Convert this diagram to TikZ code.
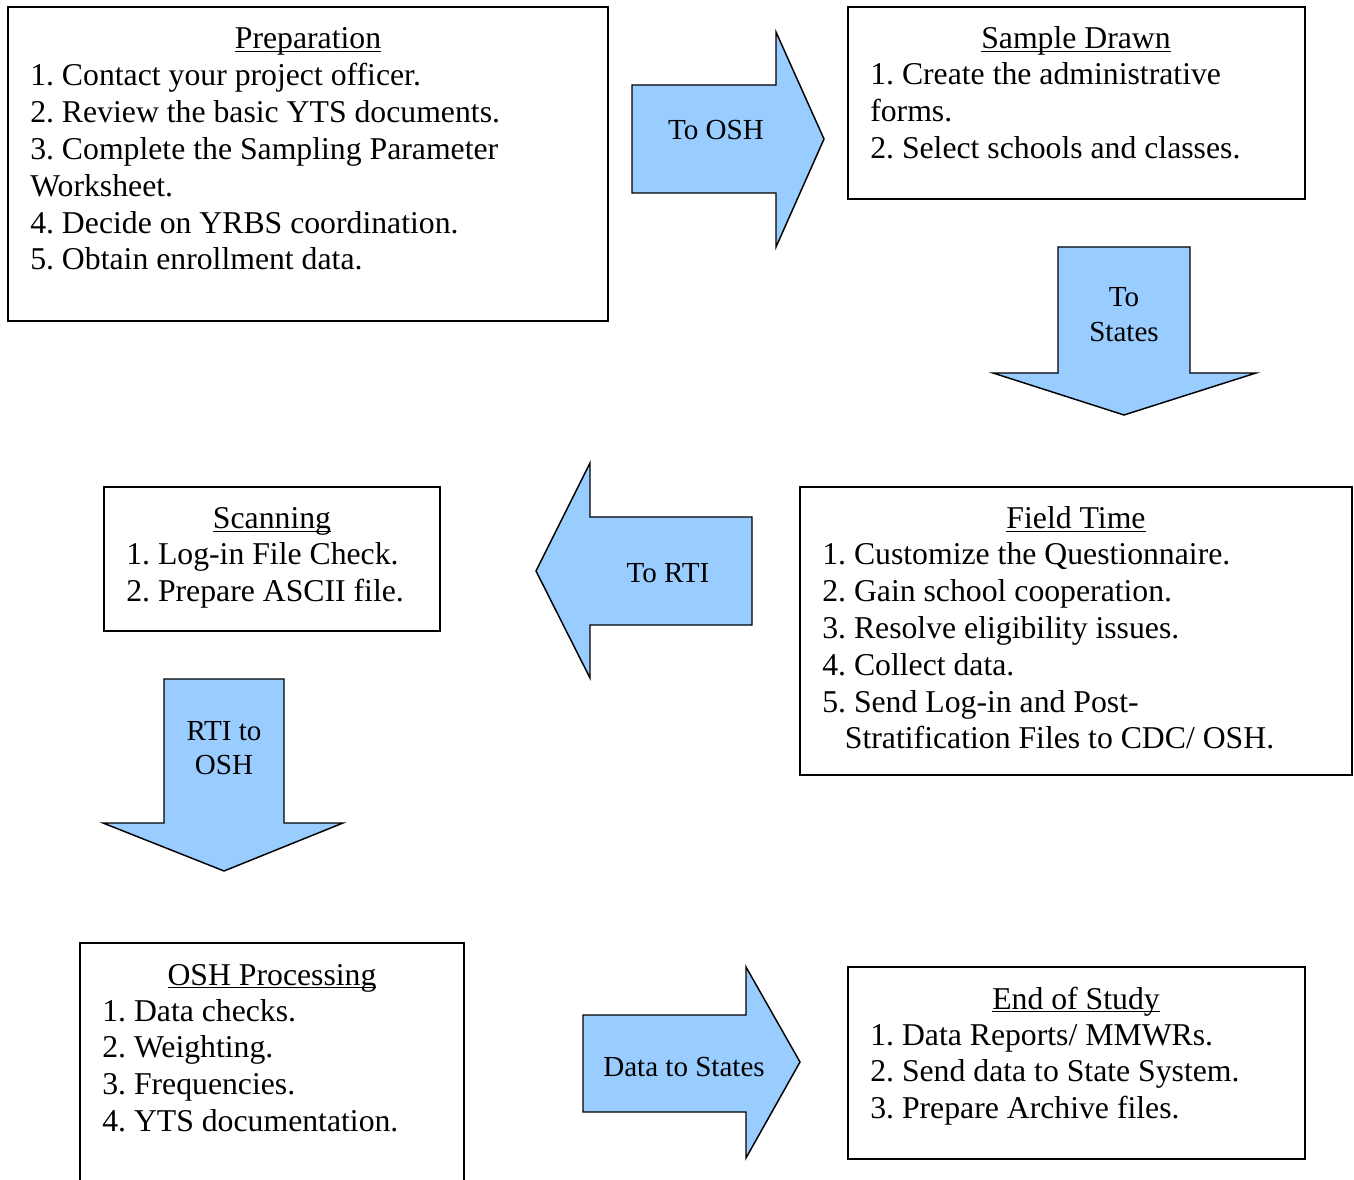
\documentclass[tikz,border=0pt]{standalone}
\usepackage{fontspec}
\setmainfont{Liberation Serif}
\usetikzlibrary{fit}
\definecolor{arrowblue}{RGB}{153,204,255}
\frenchspacing
\newcommand{\myboxfont}{\frenchspacing\fontsize{23.8pt}{27.6pt}\selectfont}
\newcommand{\myarrfont}{\frenchspacing\fontsize{21.8pt}{25.8pt}\selectfont}
\newsavebox{\myulbox}
\newcommand{\myul}[1]{\sbox{\myulbox}{#1}\rlap{\rule[-2.4pt]{\wd\myulbox}{0.9pt}}\usebox{\myulbox}}
\begin{document}
\begin{tikzpicture}[x=0.75pt,y=-0.75pt,
  box/.style={draw, line width=1.2pt, inner sep=0pt},
  bigarrow/.style={draw, fill=arrowblue, line width=1.1pt, line join=miter},
  boxtitle/.style={anchor=base, inner sep=0pt, font=\myboxfont},
  boxbody/.style={anchor=base west, inner sep=0pt, font=\myboxfont},
  alabel/.style={anchor=base, inner sep=0pt, font=\myarrfont}]
\useasboundingbox[fill=white] (0,0) rectangle (1354,1180);

% ---------- boxes ----------
\node[box, fit={(8,7) (608,321)}] (prep) {};
\node[box, fit={(848,7) (1305,199)}] (samp) {};
\node[box, fit={(104,487) (440,631)}] (scan) {};
\node[box, fit={(800,487) (1352,775)}] (field) {};
\node[box, fit={(80,943) (464,1184)}] (osh) {};
\node[box, fit={(848,967) (1305,1159)}] (endst) {};

% ---------- box texts ----------
\node[boxtitle] (prept) at (308,49) {\myul{Preparation}};
\node[boxbody] (prepb) at (30,86) {\begin{tabular}[t]{@{}l@{}}
1. Contact your project officer.\\
2. Review the basic YTS documents.\\
3. Complete the Sampling Parameter\\
Worksheet.\\
4. Decide on YRBS coordination.\\
5. Obtain enrollment data.
\end{tabular}};

\node[boxtitle] (sampt) at (1076,49) {\myul{Sample Drawn}};
\node[boxbody] (sampb) at (870,85) {\begin{tabular}[t]{@{}l@{}}
1. Create the administrative\\
forms.\\
2. Select schools and classes.
\end{tabular}};

\node[boxtitle] (scant) at (272,529) {\myul{Scanning}};
\node[boxbody] (scanb) at (126,565) {\begin{tabular}[t]{@{}l@{}}
1. Log-in File Check.\\
2. Prepare ASCII file.
\end{tabular}};

\node[boxtitle] (fieldt) at (1076,529) {\myul{Field Time}};
\node[boxbody] (fieldb) at (822,565) {\begin{tabular}[t]{@{}l@{}}
1. Customize the Questionnaire.\\
2. Gain school cooperation.\\
3. Resolve eligibility issues.\\
4. Collect data.\\
5. Send Log-in and Post-\\
\hspace*{17pt}Stratification Files to CDC/ OSH.
\end{tabular}};

\node[boxtitle] (osht) at (272,985) {\myul{OSH Processing}};
\node[boxbody] (oshb) at (102,1021) {\begin{tabular}[t]{@{}l@{}}
1. Data checks.\\
2. Weighting.\\
3. Frequencies.\\
4. YTS documentation.
\end{tabular}};

\node[boxtitle] (endt) at (1076,1009) {\myul{End of Study}};
\node[boxbody] (endb) at (870,1045) {\begin{tabular}[t]{@{}l@{}}
1. Data Reports/ MMWRs.\\
2. Send data to State System.\\
3. Prepare Archive files.
\end{tabular}};

% ---------- block arrows ----------
\draw[bigarrow] (632,85) -- (776,85) -- (776,32) -- (824,139) -- (776,247) -- (776,193) -- (632,193) -- cycle;
\node[alabel] (a1) at (716,140) {To OSH};

\draw[bigarrow] (1058,247) -- (1190,247) -- (1190,373) -- (1256,373) -- (1124,415) -- (993,373) -- (1058,373) -- cycle;
\node[alabel] (a2) at (1124,307) {\begin{tabular}[t]{@{}c@{}}To\\States\end{tabular}};

\draw[bigarrow] (752,517) -- (590,517) -- (590,463) -- (536,571) -- (590,678) -- (590,625) -- (752,625) -- cycle;
\node[alabel] (a3) at (668,582) {To RTI};

\draw[bigarrow] (164,679) -- (284,679) -- (284,823) -- (343,823) -- (224,871) -- (103,823) -- (164,823) -- cycle;
\node[alabel] (a4) at (224,740) {\begin{tabular}[t]{@{}c@{}}RTI to\\OSH\end{tabular}};

\draw[bigarrow] (583,1015) -- (746,1015) -- (746,967) -- (800,1062) -- (746,1158) -- (746,1112) -- (583,1112) -- cycle;
\node[alabel] (a5) at (684,1076) {Data to States};
\end{tikzpicture}
\end{document}
